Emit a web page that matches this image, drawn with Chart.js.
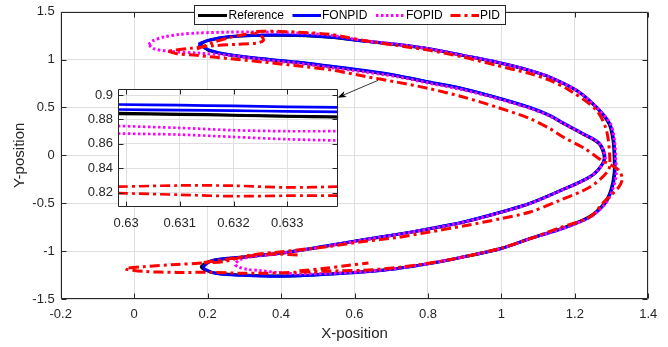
<!DOCTYPE html>
<html><head><meta charset="utf-8">
<script src="https://cdn.jsdelivr.net/npm/chart.js@4"></script>
<style>
html,body{margin:0;padding:0;background:#fff;}
#wrap{position:relative;width:668px;height:347px;overflow:hidden;}
#main{position:absolute;left:0;top:0;}
#inset{position:absolute;left:70px;top:81px;}
</style></head><body>
<div id="wrap"><canvas id="main" width="668" height="347" style="width:668px;height:347px"></canvas><canvas id="inset" width="280" height="151" style="width:280px;height:151px"></canvas></div>
<script>
// ---------- data ----------
const seriesNames = ['Reference', 'FONPID', 'FOPID', 'PID'];
const xTicks = [-0.2, 0, 0.2, 0.4, 0.6, 0.8, 1, 1.2, 1.4];
const xTickLabels = ['-0.2', '0', '0.2', '0.4', '0.6', '0.8', '1', '1.2', '1.4'];
const yTicks = [-1.5, -1, -0.5, 0, 0.5, 1, 1.5];
const yTickLabels = ['-1.5', '-1', '-0.5', '0', '0.5', '1', '1.5'];
const insetXTicks = [0.63, 0.631, 0.632, 0.633];
const insetXTickLabels = ['0.63', '0.631', '0.632', '0.633'];
const insetYTicks = [0.82, 0.84, 0.86, 0.88, 0.9];
const insetYTickLabels = ['0.82', '0.84', '0.86', '0.88', '0.9'];

const refX = [0.178,0.200,0.261,0.352,0.443,0.533,0.624,0.715,0.805,0.896,0.987,1.078,1.132,1.205,1.258,1.293,1.304,1.307,1.307,1.298,1.280,1.239,1.168,1.078,0.999,0.896,0.805,0.715,0.624,0.533,0.479,0.388,0.297,0.225,0.190,0.183,0.212,0.297,0.388,0.479,0.533,0.624,0.715,0.805,0.896,0.999,1.078,1.159,1.232,1.262,1.280,1.266,1.221,1.166,1.130,1.076,0.987,0.896,0.805,0.715,0.624,0.533,0.443,0.352,0.261,0.205,0.178];
const refY = [1.158,1.198,1.238,1.253,1.251,1.233,1.193,1.157,1.110,1.042,0.972,0.885,0.815,0.676,0.502,0.329,0.155,-0.018,-0.189,-0.363,-0.502,-0.642,-0.758,-0.868,-0.972,-1.060,-1.128,-1.181,-1.216,-1.238,-1.250,-1.260,-1.250,-1.232,-1.192,-1.160,-1.100,-1.064,-1.028,-0.976,-0.941,-0.882,-0.827,-0.767,-0.698,-0.594,-0.502,-0.372,-0.245,-0.159,-0.032,0.120,0.224,0.338,0.416,0.498,0.602,0.693,0.762,0.832,0.884,0.929,0.971,1.006,1.048,1.094,1.158];

const fonpidX = [0.175,0.200,0.261,0.352,0.443,0.533,0.624,0.715,0.805,0.896,0.987,1.078,1.132,1.205,1.259,1.295,1.306,1.309,1.309,1.300,1.282,1.241,1.170,1.078,0.999,0.896,0.805,0.715,0.624,0.533,0.479,0.388,0.297,0.225,0.193,0.189,0.216,0.297,0.388,0.479,0.533,0.624,0.715,0.805,0.896,0.999,1.078,1.159,1.232,1.262,1.282,1.268,1.223,1.168,1.132,1.078,0.987,0.896,0.805,0.715,0.624,0.533,0.443,0.352,0.261,0.207,0.175];
const fonpidY = [1.160,1.200,1.240,1.255,1.253,1.235,1.195,1.159,1.112,1.044,0.974,0.887,0.817,0.678,0.504,0.331,0.157,-0.018,-0.191,-0.365,-0.504,-0.644,-0.760,-0.870,-0.974,-1.062,-1.130,-1.183,-1.218,-1.240,-1.253,-1.263,-1.253,-1.235,-1.190,-1.160,-1.096,-1.062,-1.026,-0.974,-0.939,-0.880,-0.825,-0.765,-0.696,-0.592,-0.500,-0.370,-0.243,-0.157,-0.030,0.122,0.226,0.340,0.418,0.500,0.604,0.696,0.765,0.835,0.888,0.932,0.974,1.009,1.051,1.096,1.160];

const fopidX = [0.039,0.053,0.080,0.125,0.171,0.261,0.352,0.443,0.533,0.624,0.715,0.805,0.896,0.987,1.078,1.132,1.205,1.259,1.297,1.308,1.311,1.313,1.302,1.283,1.241,1.170,1.078,0.999,0.896,0.805,0.715,0.624,0.533,0.450,0.388,0.343,0.307,0.284,0.275,0.288,0.316,0.388,0.479,0.533,0.624,0.715,0.805,0.896,0.999,1.078,1.159,1.232,1.262,1.282,1.268,1.223,1.168,1.132,1.078,0.987,0.896,0.805,0.715,0.624,0.533,0.443,0.352,0.261,0.171,0.098,0.053,0.039];
const fopidY = [1.159,1.200,1.235,1.263,1.277,1.287,1.287,1.277,1.255,1.198,1.160,1.112,1.042,0.972,0.885,0.815,0.676,0.502,0.329,0.155,-0.020,-0.195,-0.368,-0.506,-0.646,-0.760,-0.870,-0.972,-1.060,-1.128,-1.180,-1.215,-1.232,-1.238,-1.222,-1.203,-1.190,-1.166,-1.138,-1.089,-1.062,-1.030,-0.978,-0.943,-0.884,-0.829,-0.769,-0.700,-0.596,-0.504,-0.374,-0.247,-0.161,-0.034,0.118,0.222,0.333,0.410,0.490,0.595,0.683,0.752,0.822,0.872,0.918,0.962,0.998,1.044,1.068,1.086,1.114,1.159];

const pidX = [0.093,0.116,0.171,0.261,0.352,0.443,0.533,0.624,0.715,0.805,0.896,0.987,1.078,1.132,1.168,1.225,1.273,1.300,1.320,1.329,1.320,1.279,1.241,1.159,1.078,0.999,0.896,0.805,0.715,0.624,0.561,0.479,0.388,0.297,0.207,0.116,0.025,-0.024,0.025,0.116,0.190,0.248,0.311,0.402,0.533,0.624,0.715,0.805,0.900,0.999,1.078,1.159,1.241,1.291,1.295,1.286,1.259,1.186,1.132,1.078,0.987,0.896,0.805,0.715,0.624,0.533,0.443,0.352,0.325,0.347,0.352,0.334,0.279,0.216,0.152,0.107,0.093,
  null,0.190,0.275,0.338,0.384,0.456,
  null,0.450,0.520,0.580,0.638,
  null,0.171,0.215,0.261,0.300,0.325];
const pidY = [1.086,1.062,1.044,1.009,0.974,0.935,0.894,0.828,0.765,0.696,0.609,0.504,0.383,0.279,0.191,0.075,-0.052,-0.104,-0.157,-0.243,-0.331,-0.487,-0.644,-0.755,-0.870,-0.968,-1.062,-1.124,-1.172,-1.200,-1.205,-1.215,-1.228,-1.232,-1.222,-1.222,-1.212,-1.185,-1.162,-1.140,-1.124,-1.107,-1.045,-1.006,-0.950,-0.900,-0.859,-0.800,-0.735,-0.661,-0.592,-0.470,-0.331,-0.157,-0.018,0.261,0.470,0.678,0.783,0.853,0.939,1.026,1.096,1.148,1.200,1.263,1.287,1.297,1.287,1.242,1.200,1.172,1.159,1.145,1.117,1.096,1.086,
  null,-1.118,-1.072,-1.040,-1.030,-1.044,
  null,-1.205,-1.180,-1.150,-1.124,
  null,1.110,1.180,1.230,1.262,1.280];

// inset (zoomed window) values
const insetX = [0.62985, 0.631, 0.632, 0.633, 0.63395];
const insetRefA = [0.8852, 0.8845, 0.8837, 0.8828, 0.8822];
const insetRefB = [0.8846, 0.8840, 0.8833, 0.8825, 0.8819];
const insetFonA = [0.8923, 0.8917, 0.8911, 0.8904, 0.8899];
const insetFonB = [0.8882, 0.8877, 0.8872, 0.8867, 0.8863];
const insetFopA = [0.8747, 0.8731, 0.8712, 0.8704, 0.8704];
const insetFopB = [0.8685, 0.8676, 0.8657, 0.8638, 0.8627];
const insetPidA = [0.8249, 0.8259, 0.8257, 0.8243, 0.8249];
const insetPidB = [0.8196, 0.8183, 0.8171, 0.8175, 0.8175];

// arrow annotation (data coords of main axes)
const arrowFrom = [0.664, 0.783];
const arrowTo = [0.553, 0.602];

// ---------- styles ----------
const AX = '#262626';
const GRID = '#dfdfdf';
const FONT = '"Liberation Sans", Arial, sans-serif';
const styles = {
  Reference: {color: '#000000', dash: []},
  FONPID: {color: '#0000ff', dash: []},
  FOPID: {color: '#ff00ff', dash: [2.5, 2.5]},
  PID: {color: '#ff0000', dash: [10, 4, 3, 4]}
};
const LW = 3;
const LW_INSET = 2.7;

function pts(xs, ys) { return xs.map((x, i) => ({x: x, y: ys[i]})); }
function ds(name, xs, ys, order) {
  const s = styles[name];
  return {label: name, data: pts(xs, ys), showLine: true, borderColor: s.color, backgroundColor: s.color,
    borderWidth: LW, borderDash: s.dash, pointRadius: 0, tension: 0.3, fill: false, order: order, spanGaps: false,
    borderCapStyle: 'butt', borderJoinStyle: 'round'};
}

const boxPlugin = {
  id: 'matBox',
  afterDatasetsDraw(chart) {
    const {ctx, chartArea: a, scales: {x, y}} = chart;
    const L = 5;
    const l = Math.round(a.left) + 0.5, r = Math.round(a.right) - 0.5, t = Math.round(a.top) + 0.5, b = Math.round(a.bottom) - 0.5;
    ctx.save();
    ctx.strokeStyle = AX; ctx.lineWidth = 1; ctx.setLineDash([]);
    ctx.beginPath();
    ctx.moveTo(l, t); ctx.lineTo(r, t); ctx.lineTo(r, b); ctx.lineTo(l, b); ctx.closePath();
    x.ticks.forEach(tk => { const p = Math.round(x.getPixelForValue(tk.value)) + 0.5; ctx.moveTo(p, b); ctx.lineTo(p, b - L); ctx.moveTo(p, t); ctx.lineTo(p, t + L); });
    y.ticks.forEach(tk => { const p = Math.round(y.getPixelForValue(tk.value)) + 0.5; ctx.moveTo(l, p); ctx.lineTo(l + L, p); ctx.moveTo(r, p); ctx.lineTo(r - L, p); });
    ctx.stroke();
    ctx.restore();
  }
};

const whiteAreaPlugin = {
  id: 'whiteArea',
  beforeDraw(chart) {
    const {ctx, chartArea: a} = chart;
    ctx.save(); ctx.fillStyle = '#ffffff'; ctx.fillRect(a.left, a.top, a.right - a.left, a.bottom - a.top); ctx.restore();
  }
};

const arrowPlugin = {
  id: 'arrow',
  afterDraw(chart) {
    const {ctx, scales: {x, y}} = chart;
    const x1 = x.getPixelForValue(arrowFrom[0]), y1 = y.getPixelForValue(arrowFrom[1]);
    const x2 = x.getPixelForValue(arrowTo[0]), y2 = y.getPixelForValue(arrowTo[1]);
    const ang = Math.atan2(y2 - y1, x2 - x1);
    const hl = 9, hw = 3.2;
    ctx.save();
    ctx.strokeStyle = '#000'; ctx.fillStyle = '#000'; ctx.lineWidth = 0.8; ctx.setLineDash([]);
    ctx.beginPath(); ctx.moveTo(x1, y1); ctx.lineTo(x2 - hl * 0.8 * Math.cos(ang), y2 - hl * 0.8 * Math.sin(ang)); ctx.stroke();
    ctx.beginPath();
    ctx.moveTo(x2, y2);
    ctx.lineTo(x2 - hl * Math.cos(ang) + hw * Math.sin(ang), y2 - hl * Math.sin(ang) - hw * Math.cos(ang));
    ctx.lineTo(x2 - hl * 0.75 * Math.cos(ang), y2 - hl * 0.75 * Math.sin(ang));
    ctx.lineTo(x2 - hl * Math.cos(ang) - hw * Math.sin(ang), y2 - hl * Math.sin(ang) + hw * Math.cos(ang));
    ctx.closePath(); ctx.fill();
    ctx.restore();
  }
};

const legendPlugin = {
  id: 'matLegend',
  afterDraw(chart) {
    const {ctx} = chart;
    const box = {l: 194.5, t: 5.5, r: 505.5, b: 24.5};
    const items = [
      {name: 'Reference', l1: 198, l2: 227, tx: 228.5},
      {name: 'FONPID', l1: 292.5, l2: 321, tx: 322},
      {name: 'FOPID', l1: 376, l2: 404, tx: 406},
      {name: 'PID', l1: 450.5, l2: 479, tx: 480}
    ];
    ctx.save();
    ctx.fillStyle = '#fff';
    ctx.fillRect(box.l, box.t, box.r - box.l, box.b - box.t);
    ctx.strokeStyle = AX; ctx.lineWidth = 1; ctx.setLineDash([]);
    ctx.strokeRect(box.l, box.t, box.r - box.l, box.b - box.t);
    const yc = 15.5;
    items.forEach(it => {
      const s = styles[it.name];
      ctx.strokeStyle = s.color; ctx.lineWidth = LW; ctx.setLineDash(s.dash); ctx.lineCap = 'butt';
      ctx.beginPath(); ctx.moveTo(it.l1, yc); ctx.lineTo(it.l2, yc); ctx.stroke();
      ctx.setLineDash([]);
      ctx.fillStyle = '#000'; ctx.font = '12px ' + FONT; ctx.textBaseline = 'middle'; ctx.textAlign = 'left';
      ctx.fillText(it.name, it.tx, yc + 0.5);
    });
    ctx.restore();
  }
};

function fixedTicks(vals) { return function(scale) { scale.ticks = vals.map(v => ({value: v})); }; }

// ---------- main chart ----------
new Chart(document.getElementById('main'), {
  type: 'scatter',
  data: {datasets: [
    ds('Reference', refX, refY, 4),
    ds('FONPID', fonpidX, fonpidY, 3),
    ds('FOPID', fopidX, fopidY, 2),
    ds('PID', pidX, pidY, 1)
  ]},
  options: {
    responsive: false, animation: false, devicePixelRatio: 1,
    layout: {padding: {left: 0, right: 19.7, top: 11.7, bottom: 0}},
    plugins: {legend: {display: false}, tooltip: {enabled: false}},
    scales: {
      x: {type: 'linear', min: -0.2, max: 1.4,
        afterBuildTicks: fixedTicks(xTicks),
        afterFit(s) { s.height = 48; s.paddingLeft = 0; s.paddingRight = 0; },
        ticks: {callback: (v, i) => xTickLabels[i], font: {family: FONT, size: 13}, color: AX, padding: 8, maxRotation: 0, autoSkip: false},
        grid: {color: GRID, drawTicks: false, lineWidth: 1},
        border: {display: false},
        title: {display: true, text: 'X-position', font: {family: FONT, size: 15}, color: AX, padding: {top: 0, bottom: 4}}
      },
      y: {type: 'linear', min: -1.5, max: 1.5,
        afterBuildTicks: fixedTicks(yTicks),
        afterFit(s) { s.width = 60.7; s.paddingTop = 0; s.paddingBottom = 0; },
        ticks: {callback: (v, i) => yTickLabels[i], font: {family: FONT, size: 13}, color: AX, padding: 6, autoSkip: false},
        grid: {color: GRID, drawTicks: false, lineWidth: 1},
        border: {display: false},
        title: {display: true, text: 'Y-position', font: {family: FONT, size: 15}, color: AX, padding: {top: 11, bottom: 0}}
      }
    }
  },
  plugins: [boxPlugin, arrowPlugin, legendPlugin]
});

// ---------- inset chart ----------
function ids(name, ys, order) {
  const s = styles[name];
  return {label: name, data: pts(insetX, ys), showLine: true, borderColor: s.color, borderWidth: LW_INSET, borderDash: s.dash,
    pointRadius: 0, tension: 0.3, fill: false, order: order, borderCapStyle: 'butt'};
}
new Chart(document.getElementById('inset'), {
  type: 'scatter',
  data: {datasets: [
    ids('Reference', insetRefA, 8), ids('Reference', insetRefB, 7),
    ids('FONPID', insetFonA, 6), ids('FONPID', insetFonB, 5),
    ids('FOPID', insetFopA, 4), ids('FOPID', insetFopB, 3),
    ids('PID', insetPidA, 2), ids('PID', insetPidB, 1)
  ]},
  options: {
    responsive: false, animation: false, devicePixelRatio: 1,
    layout: {padding: {left: 0, right: 11.7, top: 8, bottom: 0}},
    plugins: {legend: {display: false}, tooltip: {enabled: false}},
    scales: {
      x: {type: 'linear', min: 0.62985, max: 0.63395,
        afterBuildTicks: fixedTicks(insetXTicks),
        afterFit(s) { s.height = 25.3; s.paddingLeft = 0; s.paddingRight = 0; },
        ticks: {callback: (v, i) => insetXTickLabels[i], font: {family: FONT, size: 13}, color: AX, padding: 9, maxRotation: 0, autoSkip: false},
        grid: {color: GRID, drawTicks: false},
        border: {display: false}
      },
      y: {type: 'linear', min: 0.8085, max: 0.905,
        afterBuildTicks: fixedTicks(insetYTicks),
        afterFit(s) { s.width = 48; s.paddingTop = 0; s.paddingBottom = 0; },
        ticks: {callback: (v, i) => insetYTickLabels[i], font: {family: FONT, size: 13}, color: AX, padding: 5, autoSkip: false},
        grid: {color: GRID, drawTicks: false},
        border: {display: false}
      }
    }
  },
  plugins: [whiteAreaPlugin, boxPlugin]
});
</script></body></html>
